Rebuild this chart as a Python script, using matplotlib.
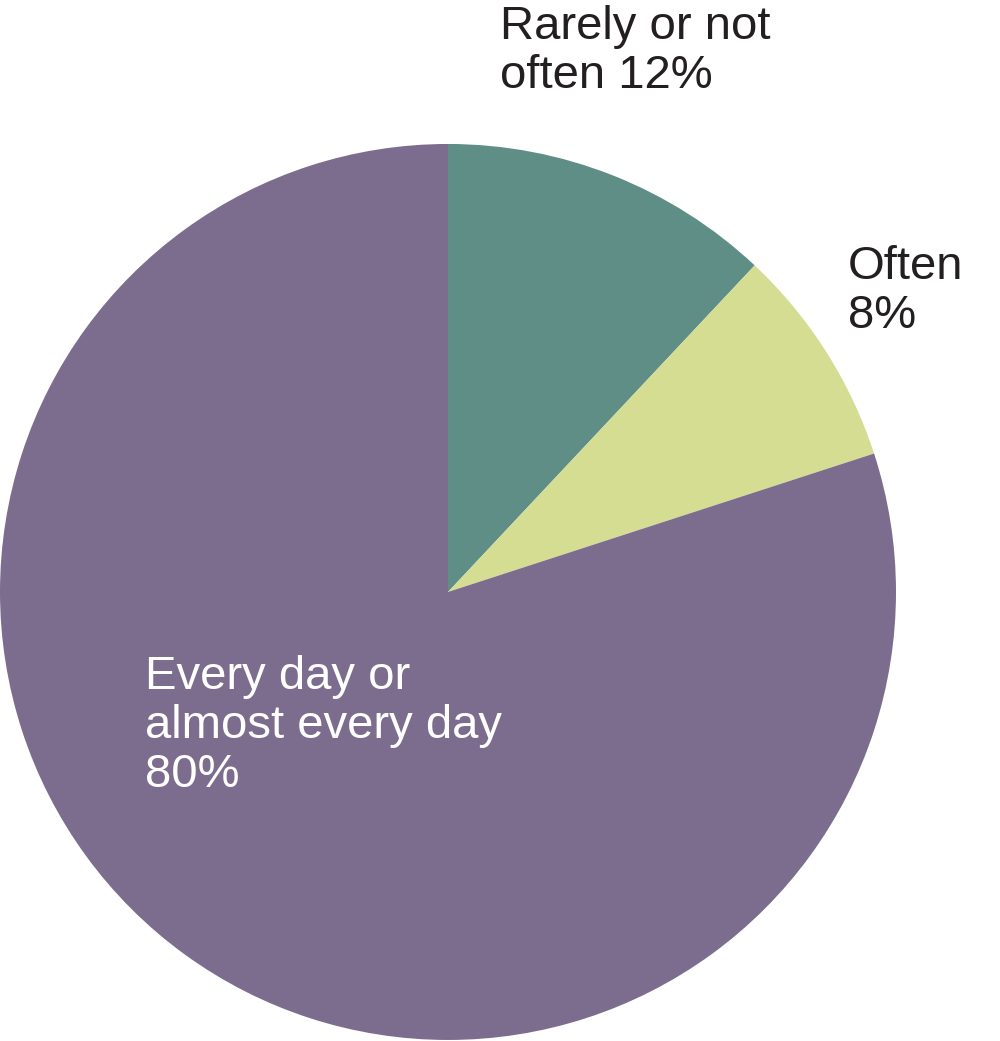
import matplotlib
matplotlib.use("Agg")
import matplotlib.pyplot as plt

labels = ["Rarely or not\noften 12%", "Often\n8%", "Every day or\nalmost every day\n80%"]
values = [12, 8, 80]
colors = ["#5f8e87", "#d5dd93", "#7c6d8f"]

plt.rcParams['font.family'] = ['Liberation Sans', 'DejaVu Sans']
fig = plt.figure(figsize=(10, 10.41), dpi=100)
ax = fig.add_axes([0.0, 0.001, 0.896, 0.8607])
ax.pie(values, colors=colors, startangle=90, counterclock=False, radius=1,
       wedgeprops=dict(linewidth=0))
ax.set_xlim(-1, 1); ax.set_ylim(-1, 1); ax.set_aspect('equal'); ax.axis('off')

fs = 34
fig.text(500/1000, 1 - 5/1041, labels[0], fontsize=fs, va='top', ha='left', linespacing=1.15, color='#231f20')
fig.text(848/1000, 1 - 245/1041, labels[1], fontsize=fs, va='top', ha='left', linespacing=1.15, color='#231f20')
fig.text(145/1000, 1 - 655/1041, labels[2], fontsize=fs, va='top', ha='left', linespacing=1.15, color='white')
fig.savefig("out.png", dpi=100)
